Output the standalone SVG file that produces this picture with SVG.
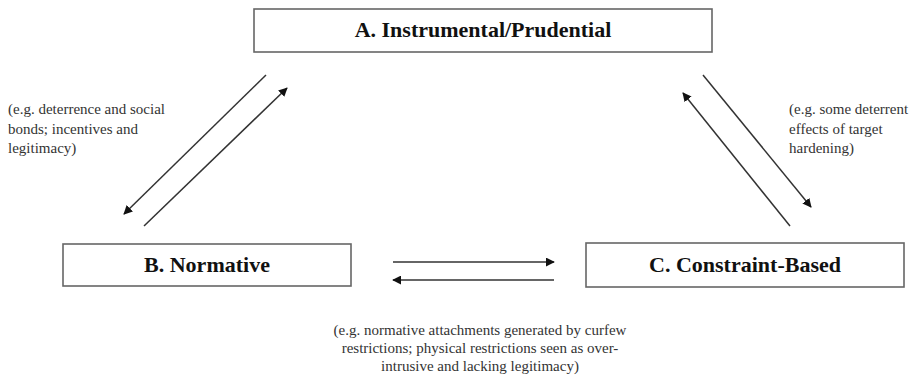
<svg xmlns="http://www.w3.org/2000/svg" width="920" height="380" viewBox="0 0 920 380">
<style>
.box{fill:#fff;stroke:#666;stroke-width:1.6}
.title{font-family:'Liberation Serif',Tinos,'Noto Serif','DejaVu Serif',FreeSerif,'Times New Roman',serif;font-weight:bold;font-size:22px;fill:#111;text-anchor:middle}
.note{font-family:'Liberation Serif',Tinos,'Noto Serif','DejaVu Serif',FreeSerif,'Times New Roman',serif;font-size:15px;fill:#333}
.ln{stroke:#333;stroke-width:1.5;fill:none;marker-end:url(#ah)}
</style>
<defs>
<marker id="ah" viewBox="0 0 10 10" refX="9" refY="5" markerWidth="6" markerHeight="6" markerUnits="strokeWidth" orient="auto">
<path d="M0,0 L10,5 L0,10 z" fill="#111"/>
</marker>
</defs>
<rect width="920" height="380" fill="#fff"/>
<g id="nodeA">
<rect class="box" x="254" y="9" width="458" height="43"/>
<text class="title" x="483" y="37">A. Instrumental/Prudential</text>
</g>
<g id="nodeB">
<rect class="box" x="63" y="244" width="288" height="42"/>
<text class="title" x="207" y="272">B. Normative</text>
</g>
<g id="nodeC">
<rect class="box" x="586" y="243" width="318" height="44"/>
<text class="title" x="745" y="272">C. Constraint-Based</text>
</g>
<g id="connectors">
<line class="ln" x1="266" y1="75" x2="124" y2="214"/>
<line class="ln" x1="144" y1="226" x2="287" y2="88"/>
<line class="ln" x1="703" y1="75" x2="811" y2="207"/>
<line class="ln" x1="790" y1="226" x2="683" y2="93"/>
<line class="ln" x1="393" y1="262" x2="554" y2="262"/>
<line class="ln" x1="554" y1="280" x2="393" y2="280"/>
</g>
<g id="labels">
<text class="note" x="8" y="114">(e.g. deterrence and social</text>
<text class="note" x="8" y="134">bonds; incentives and</text>
<text class="note" x="8" y="153">legitimacy)</text>
<text class="note" x="789" y="114">(e.g. some deterrent</text>
<text class="note" x="789" y="134">effects of target</text>
<text class="note" x="789" y="153">hardening)</text>
<text class="note" x="480" y="335" text-anchor="middle">(e.g. normative attachments generated by curfew</text>
<text class="note" x="480" y="353" text-anchor="middle">restrictions; physical restrictions seen as over-</text>
<text class="note" x="480" y="371" text-anchor="middle">intrusive and lacking legitimacy)</text>
</g>
</svg>
